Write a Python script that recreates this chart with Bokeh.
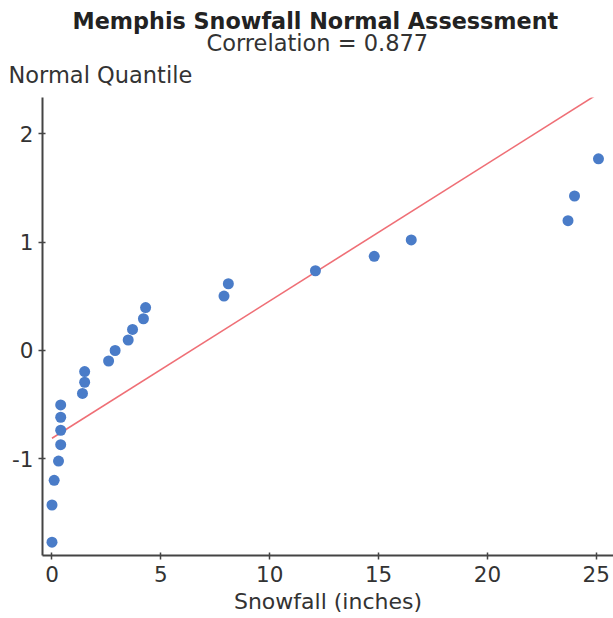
import numpy as np
from bokeh.plotting import figure
from bokeh.models import Title, Range1d, FixedTicker, ColumnDataSource
from bokeh.embed import file_html
from bokeh.resources import INLINE

# Data
snowfall = [0.0, 0.0, 0.1, 0.3, 0.4, 0.4, 0.4, 0.4, 1.4, 1.5, 1.5, 2.6, 2.9,
            3.5, 3.7, 4.2, 4.3, 7.9, 8.1, 12.1, 14.8, 16.5, 23.7, 24.0, 25.1]
normal_quantile = [-1.769, -1.426, -1.198, -1.020, -0.869, -0.736, -0.616, -0.502,
                   -0.396, -0.293, -0.194, -0.097, 0.0, 0.097, 0.194, 0.293,
                   0.396, 0.502, 0.616, 0.736, 0.869, 1.020, 1.198, 1.426, 1.769]
x_ticks = [0, 5, 10, 15, 20, 25]
y_ticks = [-1, 0, 1, 2]
y_tick_labels = {-1: "-1", 0: "0", 1: "1", 2: "2"}
title_text = "Memphis Snowfall Normal Assessment"
subtitle_text = "Correlation = 0.877"
x_label = "Snowfall (inches)"
y_label = "Normal Quantile"

FONT = "DejaVu Sans"
TXT = "#333333"

p = figure(frame_width=571, frame_height=458, output_backend="svg", toolbar_location=None,
           x_range=Range1d(-0.436, 25.79), y_range=Range1d(-1.892, 2.335),
           min_border_left=42, min_border_right=0, min_border_top=0,
           min_border_bottom=0, title=None)

p.outline_line_color = None
p.xgrid.visible = False
p.ygrid.visible = False

# reference line: least-squares fit of snowfall on quantile, drawn as quantile vs snowfall
b, a = np.polyfit(normal_quantile, snowfall, 1)
xl = [min(snowfall), max(snowfall)]
yl = [(v - a) / b for v in xl]
p.line(xl, yl, line_color="#EF6F76", line_width=1.6)

src = ColumnDataSource(dict(x=snowfall, y=normal_quantile))
p.scatter("x", "y", source=src, size=11, fill_color="#4A7CC8", line_color=None)

for ax in (p.xaxis, p.yaxis):
    ax.axis_line_color = "#444444"
    ax.axis_line_width = 2
    ax.major_tick_line_color = "#444444"
    ax.major_tick_line_width = 1.5
    ax.major_tick_in = 3
    ax.major_tick_out = 4
    ax.minor_tick_line_color = None
    ax.major_label_text_font = FONT
    ax.major_label_text_font_size = "21.5px"
    ax.major_label_text_color = TXT

p.xaxis.ticker = FixedTicker(ticks=x_ticks)
p.yaxis.ticker = FixedTicker(ticks=y_ticks)
p.yaxis.major_label_overrides = y_tick_labels
p.xaxis.major_label_standoff = 6
p.yaxis.major_label_standoff = 5
p.xaxis.axis_label = x_label
p.xaxis.axis_label_text_font = FONT
p.xaxis.axis_label_text_font_size = "22px"
p.xaxis.axis_label_text_font_style = "normal"
p.xaxis.axis_label_text_color = TXT
p.xaxis.axis_label_standoff = 4

p.add_layout(Title(text=y_label, align="left", offset=-34, text_font=FONT,
                   text_font_size="22.5px", text_font_style="normal",
                   text_color=TXT, standoff=20), "above")
p.add_layout(Title(text=subtitle_text, align="left", offset=164, text_font=FONT,
                   text_font_size="22.5px", text_font_style="normal",
                   text_color=TXT, standoff=-13), "above")
p.add_layout(Title(text=title_text, align="left", offset=30, text_font=FONT,
                   text_font_size="22.3px", text_font_style="bold",
                   text_color="#222222", standoff=1), "above")
# small spacer above the main title
p.add_layout(Title(text=" ", text_font_size="3px", standoff=0), "above")

open("out.html", "w").write(file_html(p, INLINE))
